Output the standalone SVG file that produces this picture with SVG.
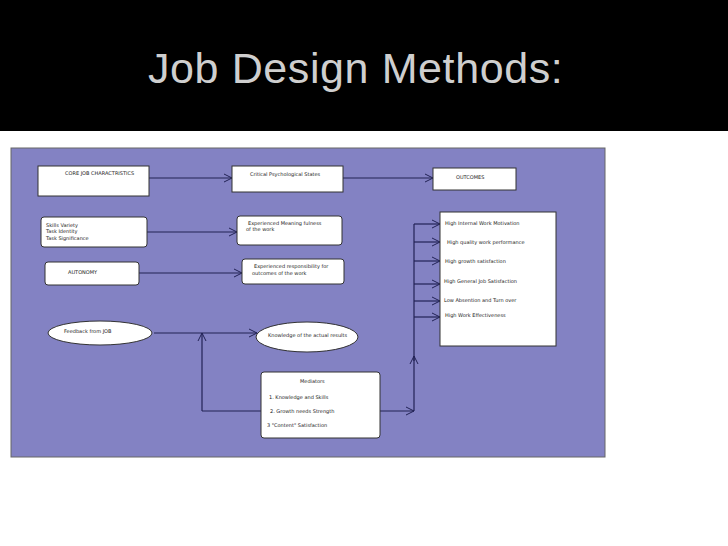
<svg xmlns="http://www.w3.org/2000/svg" width="728" height="546" viewBox="0 0 728 546">
<defs>
<marker id="a" markerWidth="10" markerHeight="10" refX="9" refY="5" orient="auto" markerUnits="userSpaceOnUse"><path d="M1,1 L9,5 L1,9" fill="none" stroke="#222255" stroke-width="1"/></marker>
<style>
.b{fill:#fff;stroke:#333;stroke-width:1}
.t{font-family:"DejaVu Sans",sans-serif;font-size:5px;fill:#222}
.c{fill:none;stroke:#222255;stroke-width:1.2}
.ar{marker-end:url(#a)}
</style>
</defs>
<rect width="728" height="546" fill="#fff"/>
<rect width="728" height="131" fill="#000"/>
<text x="148" y="83" font-family="Liberation Sans, Arial, sans-serif" font-size="43" letter-spacing="0.6" fill="#cfcfcf">Job Design Methods:</text>
<rect x="11" y="148" width="594" height="309" fill="#8382c3" stroke="#666" stroke-width="1"/>
<g id="connectors">
<path class="c ar" d="M149,178 H232"/>
<path class="c ar" d="M343,178 H433"/>
<path class="c ar" d="M147,232 H237"/>
<path class="c ar" d="M139,273 H242"/>
<path class="c ar" d="M154,333 H257"/>
<path class="c ar" d="M202,411 V333"/>
<path class="c" d="M202,411 H261"/>
<path class="c ar" d="M380,411 H414"/>
<path class="c" d="M414,411 V224"/>
<path class="c ar" d="M414,361 V356"/>
<path class="c ar" d="M414,224 H440"/>
<path class="c ar" d="M414,242 H440"/>
<path class="c ar" d="M414,261 H440"/>
<path class="c ar" d="M414,284 H440"/>
<path class="c ar" d="M414,301 H440"/>
<path class="c ar" d="M414,317 H440"/>
</g>
<g id="core"><rect class="b" x="38" y="166" width="111" height="30"/><text class="t" x="65" y="175">CORE JOB CHARACTRISTICS</text></g>
<g id="critical"><rect class="b" x="232" y="166" width="111" height="26"/><text class="t" x="250" y="176">Critical Psychological States</text></g>
<g id="outcomes"><rect class="b" x="433" y="168" width="83" height="22"/><text class="t" x="456" y="179">OUTCOMES</text></g>
<g id="skills"><rect class="b" x="41" y="217" width="106" height="30" rx="3"/><text class="t" x="46" y="227">Skills Variety</text><text class="t" x="46" y="233">Task Identity</text><text class="t" x="46" y="240">Task Significance</text></g>
<g id="meaning"><rect class="b" x="237" y="216" width="105" height="29" rx="3"/><text class="t" x="248" y="225">Experienced Meaning fulness</text><text class="t" x="246" y="231">of the work</text></g>
<g id="autonomy"><rect class="b" x="45" y="262" width="94" height="23" rx="3"/><text class="t" x="68" y="274">AUTONOMY</text></g>
<g id="responsibility"><rect class="b" x="242" y="259" width="102" height="25" rx="3"/><text class="t" x="254" y="268">Experienced responsibility for</text><text class="t" x="252" y="275">outcomes of the work</text></g>
<g id="results"><rect class="b" x="440" y="212" width="116" height="134"/>
<text class="t" x="445" y="225">High Internal Work Motivation</text>
<text class="t" x="447" y="244">High quality work performance</text>
<text class="t" x="445" y="263">High growth satisfaction</text>
<text class="t" x="444" y="283">High General Job Satisfaction</text>
<text class="t" x="444" y="302">Low Absention and Turn over</text>
<text class="t" x="445" y="317">High Work Effectiveness</text></g>
<g id="feedback"><ellipse class="b" cx="100" cy="333" rx="52" ry="12"/><text class="t" x="64" y="333">Feedback from JOB</text></g>
<g id="knowledge"><ellipse class="b" cx="307" cy="337" rx="51" ry="15"/><text class="t" x="268" y="337">Knowledge of the actual results</text></g>
<g id="mediators"><rect class="b" x="261" y="372" width="119" height="66" rx="3"/>
<text class="t" x="300" y="383">Mediators</text>
<text class="t" x="269" y="399">1. Knowledge and Skills</text>
<text class="t" x="270" y="413">2. Growth needs Strength</text>
<text class="t" x="267" y="427">3 "Content" Satisfaction</text></g>
</svg>
